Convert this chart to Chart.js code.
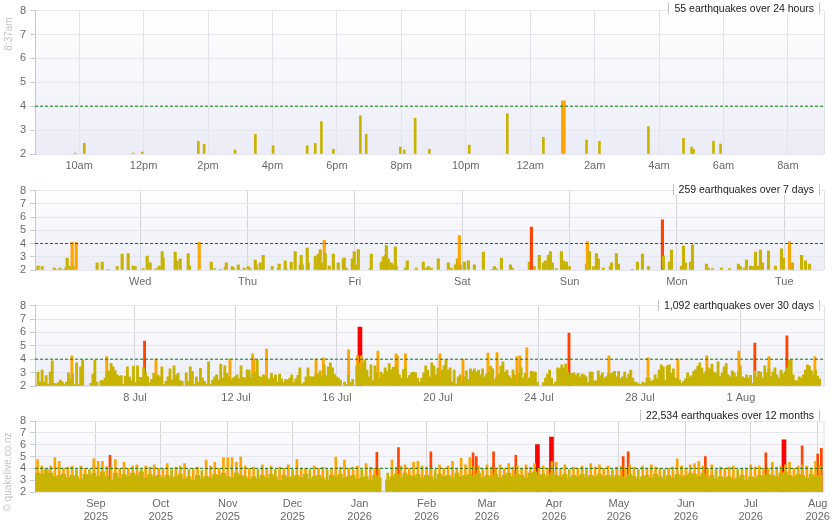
<!DOCTYPE html>
<html>
<head>
<meta charset="utf-8">
<script src="https://cdn.jsdelivr.net/npm/chart.js@4.4.1/dist/chart.umd.min.js"></script>
<style>
  html, body { margin: 0; padding: 0; background: #fff; }
  body { position: relative; width: 835px; height: 530px; overflow: hidden; font-family: "Liberation Sans", Arial, sans-serif; }
  .panel { position: absolute; left: 0; width: 835px; }
  .panel canvas { display: block; }
  .count { position: absolute; right: 15px; height: 11px; line-height: 11px; padding: 0 5px; background: #fff;
           border-left: 1px solid #c4c4c4; border-right: 1px solid #c4c4c4; font-size: 10.5px; color: #222; white-space: nowrap; }
  .side { position: absolute; transform: translate(-50%, -50%) rotate(-90deg); color: #c4c4c4; font-size: 10px; white-space: nowrap; }
</style>
</head>
<body>
<div class="panel" style="top:0;height:180px"><canvas id="dayChart" width="835" height="180"></canvas></div>
<div class="panel" style="top:180px;height:115px"><canvas id="weekChart" width="835" height="115"></canvas></div>
<div class="panel" style="top:295px;height:110px"><canvas id="monthChart" width="835" height="110"></canvas></div>
<div class="panel" style="top:405px;height:125px"><canvas id="yearChart" width="835" height="125"></canvas></div>

<div class="count" style="top:3px">55 earthquakes over 24 hours</div>
<div class="count" style="top:184px">259 earthquakes over 7 days</div>
<div class="count" style="top:300px">1,092 earthquakes over 30 days</div>
<div class="count" style="top:410px">22,534 earthquakes over 12 months</div>
<div class="side" style="left:8px;top:34px">8:37am</div>
<div class="side" style="left:7px;top:472px">© quakelive.co.nz</div>

<script>
// ---- last 24 hours (x = hours from midnight of the first day) ----
const dayTimes = [9.88, 10.16, 11.68, 11.96, 13.70, 13.88, 14.84, 15.47, 16.02, 17.08, 17.33, 17.52, 17.89, 18.73, 18.91,
  19.97, 20.09, 20.43, 20.87, 22.11, 23.29, 24.41, 25.03, 25.75, 26.15, 27.67, 28.76, 29.01, 29.07, 29.69, 29.91];
const dayMags = [2.04, 2.45, 2.04, 2.08, 2.53, 2.4, 2.16, 2.82, 2.34, 2.34, 2.45, 3.36, 2.2, 3.6, 2.82,
  2.29, 2.16, 3.49, 2.2, 2.37, 3.68, 2.7, 4.22, 2.58, 2.53, 3.15, 2.66, 2.29, 2.2, 2.53, 2.41];
const dayTicks = [10, 12, 14, 16, 18, 20, 22, 24, 26, 28, 30, 32];
const dayTickLabels = ['10am', '12pm', '2pm', '4pm', '6pm', '8pm', '10pm', '12am', '2am', '4am', '6am', '8am'];

// ---- last 7 days (x = days, Wed = 1) ----
const weekTimes = [
  0.031, 0.049, 0.087, 0.198, 0.217, 0.254, 0.292, 0.310, 0.320, 0.348,
  0.366, 0.376, 0.404, 0.599, 0.646, 0.702, 0.786, 0.832, 0.888, 0.897,
  0.935, 0.953, 1.028, 1.065, 1.093, 1.149, 1.177, 1.205, 1.214, 1.326,
  1.342, 1.373, 1.447, 1.460, 1.550, 1.662, 1.690, 1.746, 1.792, 1.802,
  1.857, 1.867, 1.913, 1.923, 1.969, 2.007, 2.025, 2.072, 2.081, 2.118,
  2.146, 2.230, 2.286, 2.295, 2.351, 2.360, 2.407, 2.444, 2.491, 2.500,
  2.510, 2.556, 2.566, 2.631, 2.659, 2.677, 2.696, 2.715, 2.724, 2.761,
  2.799, 2.845, 2.892, 2.901, 2.920, 2.976, 2.994, 3.013, 3.032, 3.143,
  3.153, 3.246, 3.265, 3.283, 3.293, 3.311, 3.339, 3.358, 3.377, 3.386,
  3.470, 3.488, 3.572,
  3.637, 3.666, 3.684, 3.712, 3.777, 3.870, 3.898, 3.936, 3.955, 3.973,
  3.982, 4.020, 4.057, 4.113, 4.197, 4.281, 4.299, 4.318, 4.365, 4.449,
  4.467, 4.625, 4.644, 4.672, 4.718, 4.756, 4.774, 4.802, 4.821, 4.840,
  4.877, 4.924, 4.942, 4.970, 4.998, 5.157, 5.166, 5.185, 5.222, 5.250,
  5.268, 5.315, 5.380, 5.390, 5.436, 5.455, 5.585, 5.632, 5.679, 5.735,
  5.865, 5.874, 5.930, 5.949, 6.042, 6.061, 6.080, 6.126, 6.145, 6.275,
  6.294, 6.331, 6.415, 6.490, 6.573, 6.592, 6.629, 6.648, 6.685, 6.713,
  6.732, 6.751, 6.778, 6.797, 6.853, 6.918, 6.974, 6.993, 7.048, 7.076,
  7.161, 7.198, 7.235];
const weekMags = [
  2.05, 2.3, 2.25, 2.15, 2.05, 2.15, 2.05, 2.2, 2.9, 2.3,
  4.1, 2.3, 4.1, 2.55, 2.6, 2.05, 2.25, 3.2, 3.25, 2.05,
  2.3, 2.25, 2.1, 3.05, 2.55, 2.1, 2.3, 3.4, 2.9, 3.35,
  2.7, 2.85, 3.25, 2.3, 4.1, 2.6, 2.1, 2.05, 2.2, 2.55,
  2.25, 2.15, 2.4, 2.05, 2.15, 2.25, 2.1, 2.75, 2.4, 2.55,
  3.1, 2.25, 2.1, 2.45, 2.7, 2.05, 2.6, 3.4, 2.4, 3.1,
  2.4, 3.65, 2.55, 3.05, 3.2, 3.55, 2.55, 4.25, 3.25, 2.3,
  3.2, 2.55, 2.85, 2.9, 2.15, 2.85, 3.4, 2.4, 3.55, 2.1,
  3.2, 2.6, 3.0, 3.1, 3.85, 2.85, 2.55, 2.4, 3.75, 2.3,
  2.15, 2.7, 2.15,
  2.6, 2.15, 2.25, 2.15, 2.85, 2.55, 2.15, 2.4, 2.85, 4.6,
  2.4, 2.6, 2.7, 2.4, 3.35, 2.05, 2.25, 2.1, 2.9, 2.4,
  2.15, 2.6, 5.25, 2.25, 3.1, 2.55, 2.7, 3.1, 3.4, 2.55,
  2.1, 3.4, 2.7, 2.6, 2.25, 2.45, 4.15, 3.4, 2.25, 3.25,
  2.85, 2.15, 2.25, 2.55, 3.25, 2.45, 2.05, 2.6, 3.2, 2.25,
  5.8, 3.05, 2.6, 3.5, 2.3, 3.8, 2.55, 2.6, 3.9, 2.45,
  2.15, 2.1, 2.15, 2.1, 2.45, 2.25, 2.15, 2.75, 2.3, 2.25,
  3.35, 2.3, 3.5, 2.55, 3.45, 2.3, 3.6, 2.9, 4.15, 2.55,
  3.1, 2.7, 2.45];
const weekTicks = [1, 2, 3, 4, 5, 6, 7];
const weekTickLabels = ['Wed', 'Thu', 'Fri', 'Sat', 'Sun', 'Mon', 'Tue'];

// ---- last 30 days (x = day of July) ----
const monthFillStart = 4.08;
const monthFillStep = 0.0804;
const monthFill = [
  2.05, 3.04, 2.3, 3.19, 2.3, 2.77, 2.1, 3.04, 3.88, 2.2, 2.15, 2.25, 2.44, 2.3, 2.1, 2.3, 2.99, 2.54, 2.89, 2.1,
  3.73, 2.1, 3.43, 3.93, 2, 2, 2, 2.2, 2.89, 3.93, 2.3, 2, 2.4, 2.4, 2.6, 3.04, 3.14, 3.7, 3.43, 3.14,
  2.84, 2.72, 2.77, 2.15, 2.74, 3.43, 2.69, 2.4, 3.48, 2.25, 3.51, 2.64, 2.64, 3.36, 2.99, 2.7, 2.25, 2.5, 2.94, 2.77,
  2.84, 2.69, 3.43, 2.1, 2.35, 2.69, 3.28, 2.44, 3.51, 2.79, 2.94, 2.4, 2.35, 2, 2.99, 2.35, 3.43, 3.09, 2.1, 2.69,
  2.3, 3.31, 2.59, 2.35, 2.15, 3.8, 2.1, 2.44, 2.69, 2.84, 2.44, 3.63, 2.6, 3.51, 2.94, 2.69, 2.4, 2.59, 2.69, 2.84,
  2.54, 3.51, 2.64, 2.6, 3.2, 3.19, 2.64, 2.94, 3.04, 3.93, 2.7, 2.64, 2.84, 2.77, 2.4, 2.54, 2.94, 2.59, 2.84, 2.3,
  2.89, 2.54, 2.25, 2.49, 2.44, 2.59, 2.84, 2.25, 2.54, 2.79, 3.36, 2.15, 2.25, 2.69, 3.36, 2.7, 2.69, 2.69, 2.94, 2.9,
  3.14, 2.77, 3.58, 2.77, 3.43, 3.73, 3.36, 2.89, 2.69, 2.59, 2.44, 2, 2.3, 2.1, 2.77, 2.25, 2.5, 2, 3.5, 3.73,
  3.19, 3.73, 3.95, 3.19, 2.69, 3.58, 2.4, 3.51, 2.99, 2.54, 3.04, 2.89, 3.36, 3.09, 3.68, 3.2, 3.4, 3.43, 3.14, 2.84,
  2.6, 3.23, 3.36, 2.59, 2.79, 2.99, 3.04,
  2.99, 2.59, 2.3, 2.59, 2.99, 3.51, 3.19, 2.69, 3.73, 3.51, 2.84, 3.33, 2.6, 3.19, 3.51, 3.95, 3.19, 3.36, 2.3, 3.19,
  2.15, 2.69, 2.84, 2.3, 2.69, 3.14, 2.49, 3.28, 3.09, 3.28, 3.04, 3.19, 2.84, 3.28, 2.69, 2.9, 3.04, 3.48, 3.28, 2.5,
  2.69, 2.89, 3.48, 3.8, 3.04, 3.19, 2.77, 2.59, 3.21, 2.8, 2.2, 2.94, 3.36, 2.6, 2.94, 2.3, 2.59, 3.09, 3.04, 3.04,
  2.3, 2, 2, 2.25, 2.59, 2.89, 3.19, 2.59, 2.1, 2.3, 3.36, 3.28, 3.58, 3.36, 3.65, 3.04, 2.84, 2.94, 2.99, 2.77,
  2.94, 2.69, 2.89, 2.84, 2.69, 2.25, 3.04, 3.04, 2.37, 2.4, 3.14, 2.77, 2.99, 2.59, 2.7, 2.94, 2.89, 2.99, 3.09, 2.69,
  3.09, 2.54, 2.69, 3.04, 2.59, 2.89, 3.19, 2.59, 2.3, 2.25, 2.15, 2.1, 2.3, 2.2, 2.59, 2.59, 2.35, 2.44, 2.84, 2.54,
  3.19, 3.58, 3.43, 2.44, 3.51, 3.58, 2.94, 3.28, 2.6, 2.59, 2.44, 2.2, 2.35, 2.54, 2.99, 2.69, 2.77, 3.09, 3.23, 3.48,
  3.73, 3.33, 2.9, 3.09, 3.36, 3.28, 3.63, 3.04, 2.94, 3.8, 2.69, 2.99, 3.43, 3.68, 2.84, 2.69, 3.14, 2.99, 2.7, 3.04,
  3.51, 2.69, 2.59, 2.84, 2.59, 2.79, 2.2, 3.14, 2.69, 3.09, 3.04, 2.59, 3.51, 3.0, 3.28, 2.69, 3.04, 3.36, 2.84, 2.59,
  3.19, 2.89, 3.06, 3.36, 3.93, 3.93, 2.84, 2.4, 2.4, 2.69, 2.59, 2.84, 3.19, 3.58, 3.48, 3.14, 2.8, 3.19, 2.74, 2.54];
// magnitude 4 and above
const monthBigTimes = [5.50, 6.88, 8.38, 8.83, 11.76, 12.66, 12.71, 13.21, 15.17, 15.46, 16.46, 16.81, 16.91, 16.96, 17.62,
  18.34, 18.39, 18.71, 20.08, 20.99, 21.98, 22.34, 23.13, 23.25, 23.52, 25.19, 26.77, 28.32, 29.50, 30.65,
  31.92, 32.55, 33.11, 33.82, 34.93];
const monthBigMags = [4.25, 4.2, 5.35, 4.0, 4.0, 4.4, 4.0, 4.75, 4.0, 4.1, 4.7, 4.25, 6.4, 4.25, 4.6,
  4.4, 4.25, 4.4, 4.4, 4.0, 4.45, 4.5, 4.2, 4.25, 4.85, 5.95, 4.25, 4.1, 4.0, 4.25,
  4.6, 5.2, 4.2, 5.75, 4.2];
const monthTicks = [8, 12, 16, 20, 24, 28, 32];
const monthTickLabels = ['8 Jul', '12 Jul', '16 Jul', '20 Jul', '24 Jul', '28 Jul', '1 Aug'];

// ---- last 12 months (x = days from 1 Sep 2025), two-day bins ----
const yearBinStart = -27;
const yearBinStep = 2;
const yearPeak = [
  4.75, 4.2, 3.9, 4.2, 4.9, 4.6, 4.0, 4.1, 4.2, 3.9,
  4.2, 4.0, 3.9, 4.8, 4.6, 4.6, 4.15, 4.1, 4.75, 4.0,
  4.5, 4.0, 4.2, 4.3, 3.9, 4.2, 4.1, 4.3, 4.0, 4.0,
  4.4, 3.9, 4.1, 4.2, 4.4, 3.9, 4.0, 4.1, 3.8, 4.7,
  4.2, 4.5, 4.0, 4.9, 4.9, 4.9, 4.5, 4.95, 4.2, 4.0,
  4.1, 3.9, 4.3, 4.0, 4.2, 3.9, 4.1, 4.0, 4.3, 3.9,
  4.75, 4.0, 4.0, 3.9, 4.2, 4.0, 4.1, 3.9, 4.0, 4.95,
  4.1, 4.7, 4.0, 4.1, 4.2, 3.9, 4.4, 4.1, 4.0, 4.0,
  2.0, 3.6, 4.7, 4.1, 4.2, 4.3, 4.0, 4.5, 4.6, 4.2,
  4.1, 4.0, 3.9, 4.3, 4.0, 4.2, 4.6, 4.0, 4.85, 4.3,
  4.9, 4.2, 4.2, 4.0, 4.3, 4.1, 4.0, 4.3, 4.0, 4.4,
  4.1, 4.2, 4.0, 4.3, 4.1, 4.4, 4.0, 4.2, 4.0, 4.6,
  4.5, 4.0, 4.3, 3.9, 4.1, 4.0, 4.2, 3.9, 4.4, 4.1,
  4.3, 4.0, 4.2, 3.9, 4.1, 4.2, 4.0, 4.3, 4.1, 3.9,
  4.2, 4.0, 4.3, 4.1, 4.0, 3.9, 4.0, 4.1, 4.8, 4.2,
  4.0, 4.3, 4.4, 4.6, 4.2, 4.0, 4.3, 3.9, 4.1, 4.0,
  4.1, 4.2, 3.9, 4.0, 4.0, 4.3, 4.1, 4.2, 4.0, 4.0,
  4.5, 4.1, 4.2, 4.3, 4.5, 4.0, 4.2, 4.3, 4.2, 4.0, 4.6, 4.2];
const yearFill = [
  3.6, 3.5, 3.9, 3.6, 3.3, 3.4, 3.5, 3.2, 3.4, 3.3,
  3.1, 3.5, 3.4, 3.6, 3.3, 3.7, 3.3, 3.0, 3.6, 3.2,
  3.5, 3.3, 3.6, 3.4, 3.7, 3.2, 3.5, 3.3, 3.4, 3.2,
  3.4, 3.2, 3.3, 3.5, 3.1, 3.3, 3.0, 3.4, 3.1, 3.3,
  3.2, 3.5, 3.4, 3.6, 3.3, 3.2, 3.6, 3.4, 3.3, 3.1,
  3.3, 3.1, 3.4, 3.2, 3.5, 3.3, 3.0, 3.4, 3.2, 3.3,
  3.4, 3.2, 3.5, 3.1, 3.3, 3.4, 3.2, 3.0, 3.4, 3.3,
  3.5, 3.2, 3.3, 3.4, 3.1, 3.2, 3.3, 3.0, 3.4, 3.2,
  2.0, 3.0, 3.3, 3.5, 3.2, 3.6, 3.4, 3.3, 3.5, 3.2,
  3.4, 3.3, 3.1, 3.5, 3.3, 3.4, 3.2, 3.6, 3.3, 3.4,
  3.5, 3.3, 3.6, 3.2, 3.4, 3.3, 3.5, 3.2, 3.4, 3.6,
  3.3, 3.5, 3.4, 3.2, 3.6, 3.7, 3.4, 3.5, 3.3, 3.6,
  3.4, 3.3, 3.5, 3.2, 3.4, 3.3, 3.5, 3.2, 3.4, 3.3,
  3.5, 3.3, 3.4, 3.2, 3.4, 3.3, 3.2, 3.5, 3.3, 3.1,
  3.3, 3.4, 3.2, 3.5, 3.3, 3.1, 3.4, 3.2, 3.5, 3.3,
  3.4, 3.6, 3.5, 3.3, 3.6, 3.2, 3.4, 3.1, 3.3, 3.2,
  3.3, 3.1, 3.2, 3.4, 3.0, 3.3, 3.2, 3.4, 3.3, 3.5,
  3.4, 3.3, 3.6, 3.7, 3.4, 3.3, 3.5, 3.4, 3.2, 3.5, 3.3, 3.4];
// magnitude 5 and above
const yearBigTimes = [6.5, 130, 140, 155, 174.5, 176, 184, 194.3, 204.3, 210.8, 244, 246.3, 282, 310, 318.4, 326.8, 334, 335.7];
const yearBigMags = [5.1, 5.35, 5.75, 5.4, 5.3, 5.0, 5.4, 5.1, 6.0, 6.65, 5.0, 5.4, 5.0, 5.3, 6.4, 5.9, 5.2, 5.7];
const yearTicks = [0, 30, 61, 91, 122, 153, 181, 212, 242, 273, 303, 334];
const yearTickMonths = ['Sep', 'Oct', 'Nov', 'Dec', 'Jan', 'Feb', 'Mar', 'Apr', 'May', 'Jun', 'Jul', 'Aug'];
const yearTickYears = ['2025', '2025', '2025', '2025', '2026', '2026', '2026', '2026', '2026', '2026', '2026', '2026'];

const tickFont = { family: '"Liberation Sans", Arial, sans-serif', size: 11 };

function magColour(m) {
  if (m >= 6) return '#ff0000';
  if (m >= 5) return '#ff4500';
  if (m >= 4) return '#ffa500';
  return '#c8b400';
}

function pairs(times, mags) {
  return times.map((t, i) => ({ x: t, y: mags[i] }));
}

function series(start, step, mags) {
  return mags.map((m, i) => ({ x: start + i * step, y: m }));
}

function barSet(points, thickness, order) {
  return {
    type: 'bar',
    data: points,
    base: 2,
    grouped: false,
    barThickness: thickness,
    borderWidth: 0,
    order: order,
    backgroundColor: (c) => magColour(c.raw ? c.raw.y : 2),
  };
}

function thresholdLine(min, max) {
  return {
    type: 'line',
    data: [{ x: min, y: 4 }, { x: max, y: 4 }],
    borderColor: '#0b7a0b',
    borderWidth: 1,
    borderDash: [3, 2],
    pointRadius: 0,
    order: 0,
  };
}

// gradient plot background, like the original
const plotBackground = {
  id: 'plotBackground',
  beforeDraw(chart) {
    const { ctx, chartArea: a } = chart;
    const g = ctx.createLinearGradient(0, a.top, 0, a.bottom);
    g.addColorStop(0, '#ffffff');
    g.addColorStop(1, '#ececf8');
    ctx.save();
    ctx.fillStyle = g;
    ctx.fillRect(a.left, a.top, a.right - a.left, a.bottom - a.top);
    ctx.strokeStyle = '#dfe4e6';
    ctx.lineWidth = 1;
    ctx.beginPath();
    ctx.moveTo(a.right + 0.5, a.top);
    ctx.lineTo(a.right + 0.5, a.bottom);
    ctx.stroke();
    ctx.restore();
  },
};

function makePanel(id, p) {
  const canvas = document.getElementById(id);
  const height = canvas.height;
  return new Chart(canvas, {
    type: 'bar',
    data: { datasets: p.datasets.concat([thresholdLine(p.min, p.max)]) },
    plugins: [plotBackground],
    options: {
      responsive: false,
      animation: false,
      devicePixelRatio: 1,
      layout: { padding: { top: p.top, right: 11, left: 0, bottom: 0 } },
      plugins: { legend: { display: false }, tooltip: { enabled: false } },
      scales: {
        x: {
          type: 'linear',
          min: p.min,
          max: p.max,
          offset: false,
          afterBuildTicks: (s) => { s.ticks = p.ticks.map((v) => ({ value: v })); },
          afterFit: (s) => { s.height = height - p.bottom; },
          grid: { color: p.gridColour, drawTicks: false, offset: false },
          border: { display: false },
          ticks: { autoSkip: false, maxRotation: 0, padding: 5, color: '#6a6a6a', font: tickFont,
                   callback: (v, i) => p.labels[i] },
        },
        y: {
          min: 2,
          max: 8,
          afterFit: (s) => { s.width = 35; },
          grid: { color: '#e6e6ee', tickLength: 5, tickColor: '#c6d2d2' },
          border: { color: '#bccccc' },
          ticks: { stepSize: 1, autoSkip: false, padding: 4, color: '#6a6a6a', font: tickFont },
        },
      },
    },
  });
}

const dayPoints = pairs(dayTimes, dayMags);
makePanel('dayChart', {
  top: 8, bottom: 154, min: 8.63, max: 33.12,
  ticks: dayTicks, labels: dayTickLabels, gridColour: '#e2e2ea',
  datasets: [
    barSet(dayPoints.filter((d) => d.y < 4), 2, 1),
    barSet(dayPoints.filter((d) => d.y >= 4), 4, 2),
  ],
});

makePanel('weekChart', {
  top: 8, bottom: 90, min: 0.02, max: 7.37,
  ticks: weekTicks, labels: weekTickLabels, gridColour: '#d6d6dc',
  datasets: [barSet(pairs(weekTimes, weekMags), 2.5, 1)],
});

const monthBig = pairs(monthBigTimes, monthBigMags);
makePanel('monthChart', {
  top: 10, bottom: 91, min: 4.04, max: 35.29,
  ticks: monthTicks, labels: monthTickLabels, gridColour: '#d6d6dc',
  datasets: [
    barSet(series(monthFillStart, monthFillStep, monthFill), 2.2, 1),
    barSet(monthBig.filter((d) => d.y < 6), 2.2, 2),
    barSet(monthBig.filter((d) => d.y >= 6), 4, 3),
  ],
});

const yearBig = pairs(yearBigTimes, yearBigMags);
makePanel('yearChart', {
  top: 16, bottom: 87, min: -28.2, max: 336.7,
  ticks: yearTicks, labels: yearTickMonths.map((m, i) => [m, yearTickYears[i]]), gridColour: '#d6d6dc',
  datasets: [
    barSet(series(yearBinStart, yearBinStep, yearFill), 4.4, 1),
    barSet(series(yearBinStart, yearBinStep, yearPeak), 2, 2),
    barSet(yearBig.filter((d) => d.y < 6), 2, 3),
    barSet(yearBig.filter((d) => d.y >= 6), 4, 4),
  ],
});
</script>
</body>
</html>
